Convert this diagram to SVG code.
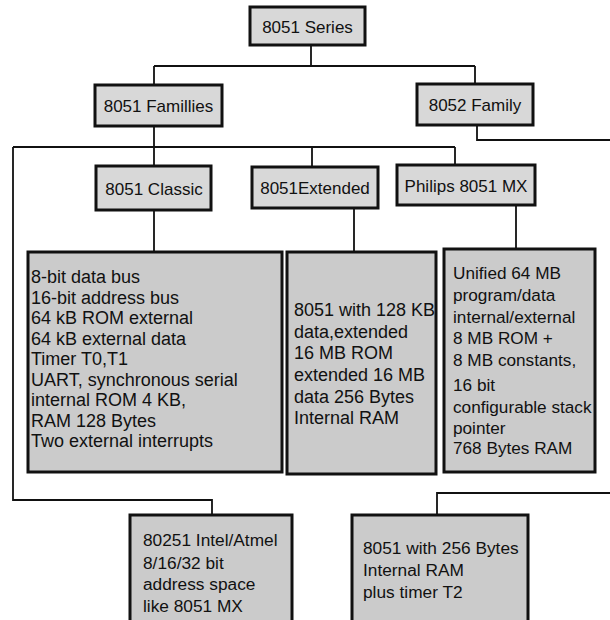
<svg xmlns="http://www.w3.org/2000/svg" width="610" height="620" viewBox="0 0 610 620">
<style>
  .hdr { fill: #d8d8d8; stroke: #111; stroke-width: 3; }
  .det { fill: #cbcbcb; stroke: #111; stroke-width: 3; }
  .conn { fill: none; stroke: #111; stroke-width: 1.8; }
  text { font-family: "Liberation Sans", Arial, sans-serif; fill: #111; }
  .ht { font-size: 17px; text-anchor: middle; }
  .dt { font-size: 18px; }
  .bt { font-size: 17.3px; }
</style>
<rect width="610" height="620" fill="#ffffff"/>
<g id="connectors">
  <path class="conn" d="M311,45 V66 M154,66 H475 M154,66 V85 M475,66 V84"/>
  <path class="conn" d="M154,126 V167 M13,147 H455 M312,147 V167 M455,147 V165"/>
  <path class="conn" d="M13,147 V500 H212 V515"/>
  <path class="conn" d="M477,125 V140 H610"/>
  <path class="conn" d="M610,493 H437 V515"/>
  <path class="conn" d="M154,210 V252 M354,208 V252 M516,205 V249"/>
</g>
<g id="series">
  <rect class="hdr" x="250" y="7" width="115" height="38"/>
  <text class="ht" x="307.5" y="32.5">8051 Series</text>
</g>
<g id="families">
  <rect class="hdr" x="95" y="85" width="127" height="41"/>
  <text class="ht" x="158.5" y="112">8051 Famillies</text>
</g>
<g id="family8052">
  <rect class="hdr" x="417" y="84" width="116" height="41"/>
  <text class="ht" x="475" y="111">8052 Family</text>
</g>
<g id="classic">
  <rect class="hdr" x="96" y="166" width="115" height="44"/>
  <text class="ht" x="154" y="194.5">8051 Classic</text>
</g>
<g id="extended">
  <rect class="hdr" x="252" y="167" width="126" height="41"/>
  <text class="ht" x="315" y="194">8051Extended</text>
</g>
<g id="mx">
  <rect class="hdr" x="397" y="165" width="138" height="40"/>
  <text class="ht" x="466" y="191.5">Philips 8051 MX</text>
</g>
<g id="classic-details">
  <rect class="det" x="28" y="252" width="254" height="220"/>
  <text class="dt">
    <tspan x="31" y="283">8-bit data bus</tspan>
    <tspan x="31" y="303.5">16-bit address bus</tspan>
    <tspan x="31" y="324">64 kB ROM external</tspan>
    <tspan x="31" y="344.5">64 kB external data</tspan>
    <tspan x="31" y="365">Timer T0,T1</tspan>
    <tspan x="31" y="385.5">UART, synchronous serial</tspan>
    <tspan x="31" y="406">internal ROM 4 KB,</tspan>
    <tspan x="31" y="426.5">RAM 128 Bytes</tspan>
    <tspan x="31" y="447">Two external interrupts</tspan>
  </text>
</g>
<g id="extended-details">
  <rect class="det" x="287" y="252" width="149" height="222"/>
  <text class="dt">
    <tspan x="294" y="316">8051 with 128 KB</tspan>
    <tspan x="294" y="337.7">data,extended</tspan>
    <tspan x="294" y="359.3">16 MB ROM</tspan>
    <tspan x="294" y="381">extended 16 MB</tspan>
    <tspan x="294" y="402.7">data 256 Bytes</tspan>
    <tspan x="294" y="424.3">Internal RAM</tspan>
  </text>
</g>
<g id="mx-details">
  <rect class="det" x="444" y="249" width="151" height="223"/>
  <text class="dt" style="font-size:17.2px">
    <tspan x="453" y="279.3">Unified 64 MB</tspan>
    <tspan x="453" y="301">program/data</tspan>
    <tspan x="453" y="322.7">internal/external</tspan>
    <tspan x="453" y="344.3">8 MB ROM +</tspan>
    <tspan x="453" y="366">8 MB constants,</tspan>
    <tspan x="453" y="391">16 bit</tspan>
    <tspan x="453" y="412.7">configurable stack</tspan>
    <tspan x="453" y="434.3">pointer</tspan>
    <tspan x="453" y="454.3">768 Bytes RAM</tspan>
  </text>
</g>
<g id="intel80251">
  <rect class="det" x="130" y="515" width="162" height="112"/>
  <text class="bt">
    <tspan x="143" y="546">80251 Intel/Atmel</tspan>
    <tspan x="143" y="568.5">8/16/32 bit</tspan>
    <tspan x="143" y="589.5">address space</tspan>
    <tspan x="143" y="612">like 8051 MX</tspan>
  </text>
</g>
<g id="ram256">
  <rect class="det" x="352" y="515" width="176" height="112"/>
  <text class="bt">
    <tspan x="363" y="554.3">8051 with 256 Bytes</tspan>
    <tspan x="363" y="576">Internal RAM</tspan>
    <tspan x="363" y="597.7">plus timer T2</tspan>
  </text>
</g>
</svg>
